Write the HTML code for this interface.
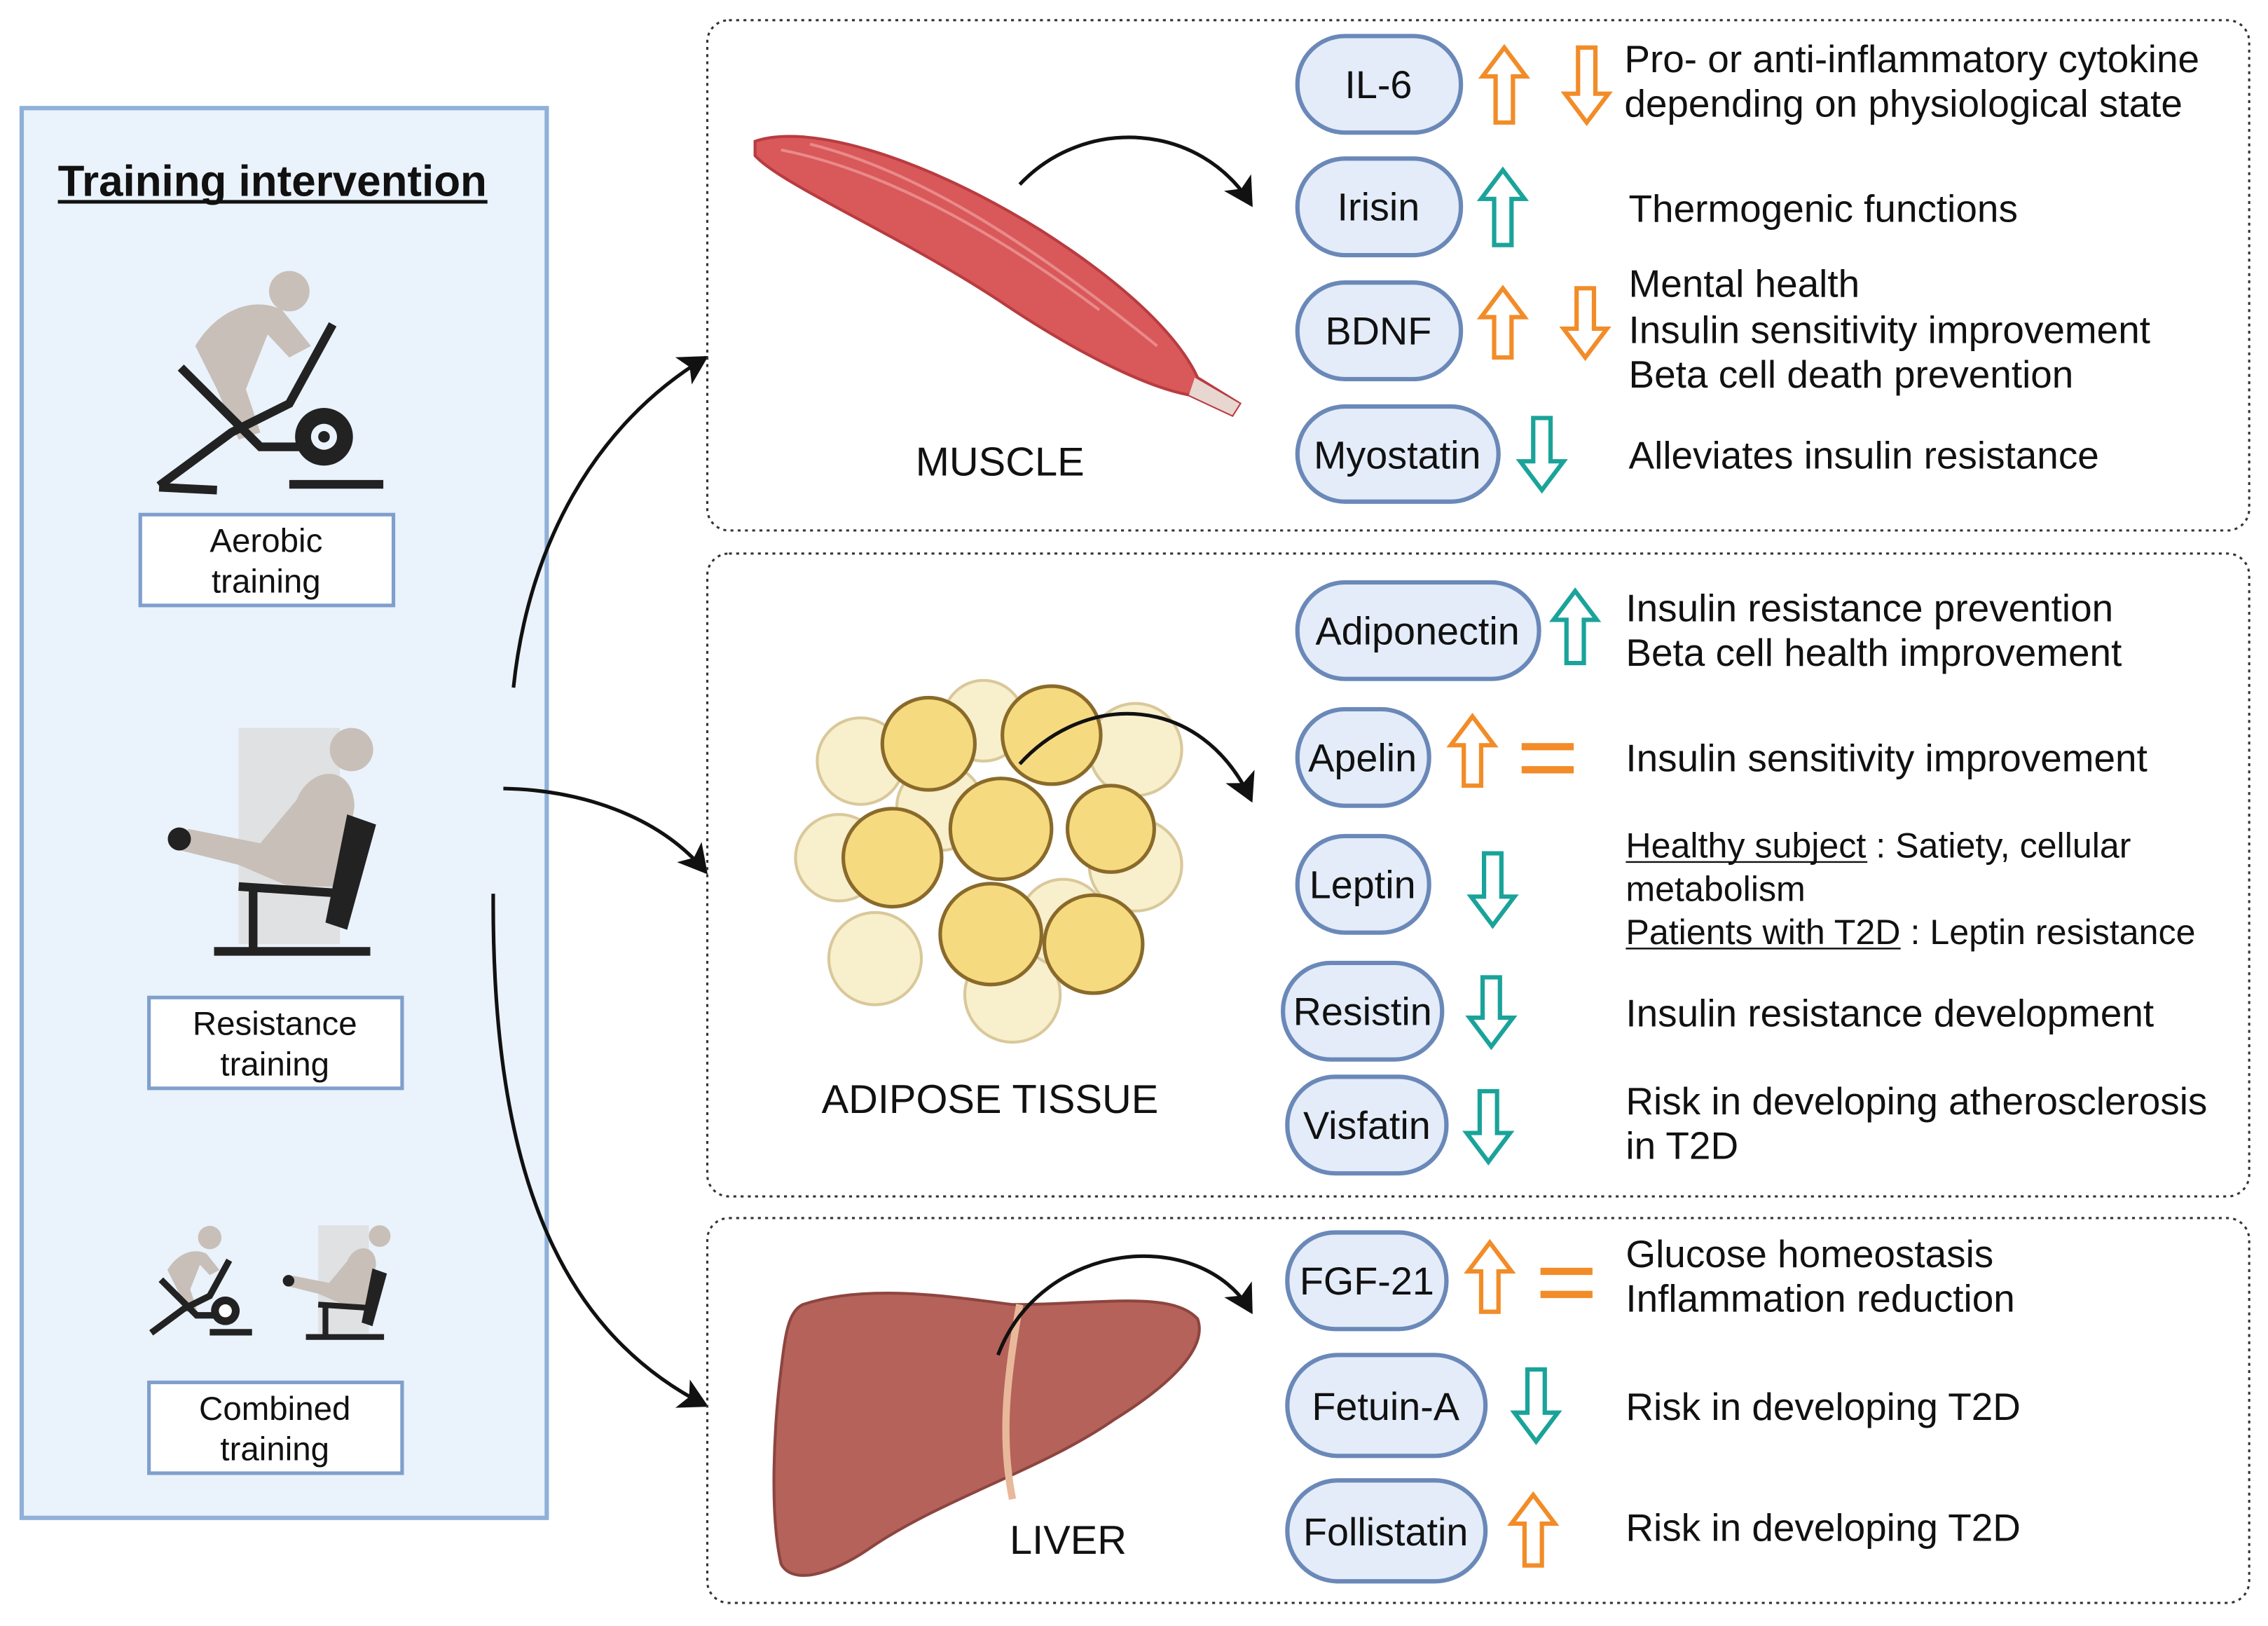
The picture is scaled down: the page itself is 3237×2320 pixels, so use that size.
<!DOCTYPE html>
<html><head><meta charset="utf-8"><style>
html,body{margin:0;padding:0;background:#fff;}
svg{display:block;}
text{font-family:"Liberation Sans",sans-serif;fill:#111;}
</style></head><body>
<svg width="3237" height="2320" viewBox="0 0 1568 1128" preserveAspectRatio="none" xmlns="http://www.w3.org/2000/svg">
<defs>
<marker id="ah2" markerWidth="22" markerHeight="22" refX="18" refY="11" orient="auto" markerUnits="userSpaceOnUse"><path d="M0,0 L20,11 L0,22 L5,11 Z" fill="#111"/></marker>
</defs>
<rect x="15" y="75" width="363" height="978" fill="#eaf2fb" stroke="#8fb0d8" stroke-width="3"/>
<text x="40" y="136" font-size="30" font-weight="bold">Training intervention</text>
<line x1="40" y1="140" x2="337" y2="140" stroke="#111" stroke-width="2.5"/>
<g fill="#fff" stroke="#7f9fcc" stroke-width="2.5">
<rect x="97" y="357" width="175" height="63"/>
<rect x="103" y="692" width="175" height="63"/>
<rect x="103" y="959" width="175" height="63"/>
</g>
<g font-size="23" text-anchor="middle">
<text x="184" y="383">Aerobic</text><text x="184" y="411">training</text>
<text x="190" y="718">Resistance</text><text x="190" y="746">training</text>
<text x="190" y="985">Combined</text><text x="190" y="1013">training</text>
</g>
<g>
<circle cx="200" cy="202" r="14" fill="#c8bfb8"/>
<path d="M135,240 C150,215 175,205 195,215 L215,240 L200,248 L185,232 L170,270 L180,300 L165,305 L150,270 Z" fill="#c8bfb8"/>
<path d="M110,337 L160,300 L200,280 L230,225" stroke="#222" stroke-width="6" fill="none"/>
<path d="M125,255 L180,310 L240,310 M150,340 L110,338 M200,336 L265,336" stroke="#222" stroke-width="6" fill="none"/>
<circle cx="224" cy="303" r="20" fill="#222"/><circle cx="224" cy="303" r="9" fill="#eaf2fb"/><circle cx="224" cy="303" r="4" fill="#222"/>
</g>
<g>
<rect x="165" y="505" width="70" height="150" fill="#dcdcdc" opacity="0.8"/>
<circle cx="243" cy="520" r="15" fill="#c8bfb8"/>
<path d="M205,555 C215,530 245,530 245,560 L235,615 L200,615 L165,600 L125,590 L130,575 L180,585 Z" fill="#c8bfb8"/>
<path d="M240,565 L260,572 L240,645 L225,640 Z" fill="#222"/>
<path d="M165,615 L240,620 M175,618 L175,660 M148,660 L256,660" stroke="#222" stroke-width="6" fill="none"/>
<circle cx="124" cy="582" r="8" fill="#222"/>
</g>
<g transform="translate(100,845) scale(0.45)">
<circle cx="100" cy="30" r="18" fill="#c8bfb8"/>
<path d="M35,80 C50,55 75,45 95,55 L115,80 L100,88 L85,72 L70,110 L80,140 L65,145 L50,110 Z" fill="#c8bfb8"/>
<path d="M10,177 L60,140 L100,120 L130,65 M25,95 L80,150 L140,150 M100,176 L165,176" stroke="#222" stroke-width="10" fill="none"/>
<circle cx="124" cy="143" r="22" fill="#222"/><circle cx="124" cy="143" r="10" fill="#fff"/>
</g>
<g transform="translate(155,830) scale(0.5)">
<rect x="130" y="40" width="70" height="150" fill="#dcdcdc" opacity="0.8"/>
<circle cx="215" cy="55" r="15" fill="#c8bfb8"/>
<path d="M170,90 C180,65 210,65 210,95 L200,150 L165,150 L130,135 L90,125 L95,110 L145,120 Z" fill="#c8bfb8"/>
<path d="M205,100 L225,107 L205,180 L190,175 Z" fill="#222"/>
<path d="M130,150 L205,155 M140,153 L140,195 M113,195 L221,195" stroke="#222" stroke-width="8" fill="none"/>
<circle cx="89" cy="117" r="8" fill="#222"/>
</g>
<g stroke="#111" stroke-width="2.5" fill="none" marker-end="url(#ah2)">
<path d="M355,477 C365,380 410,295 488,248"/>
<path d="M348,547 C400,548 455,565 488,605"/>
<path d="M341,620 C340,800 380,920 488,975"/>
</g>
<g fill="none" stroke="#333" stroke-width="1.5" stroke-dasharray="2,3">
<rect x="489" y="14" width="1066" height="354" rx="15"/>
<rect x="489" y="384" width="1066" height="446" rx="15"/>
<rect x="489" y="845" width="1066" height="267" rx="15"/>
</g>
<path d="M522,98 C560,85 640,110 720,160 C790,205 818,240 828,262 L857,280 L852,288 L822,274 C790,268 740,242 690,208 C620,162 540,128 522,108 Z" fill="#d9585a" stroke="#b83c40" stroke-width="2"/>
<path d="M826,262 L857,280 L852,288 L822,274 Z" fill="#e8d6d0"/>
<path d="M540,104 C620,120 700,170 760,215 M560,100 C640,120 720,175 800,240" stroke="#e98a8a" stroke-width="2" fill="none"/>
<text x="633" y="330" font-size="28">MUSCLE</text>
<g fill="#f8efcc" stroke="#d9c89a" stroke-width="2">
<circle cx="595" cy="528" r="30"/><circle cx="680" cy="500" r="28"/><circle cx="785" cy="520" r="32"/>
<circle cx="580" cy="595" r="30"/><circle cx="605" cy="665" r="32"/><circle cx="700" cy="690" r="33"/>
<circle cx="785" cy="600" r="32"/><circle cx="650" cy="560" r="30"/><circle cx="735" cy="640" r="30"/>
</g>
<g fill="#f5da80" stroke="#8a6a2a" stroke-width="2.5">
<circle cx="642" cy="516" r="32"/><circle cx="727" cy="510" r="34"/><circle cx="617" cy="595" r="34"/>
<circle cx="692" cy="575" r="35"/><circle cx="768" cy="575" r="30"/><circle cx="685" cy="648" r="35"/><circle cx="756" cy="655" r="34"/>
</g>
<text x="568" y="772" font-size="28">ADIPOSE TISSUE</text>
<path d="M555,905 C600,890 660,900 700,905 C760,905 810,895 828,915 C835,935 810,960 770,985 C720,1020 650,1040 600,1075 C575,1092 548,1100 540,1085 C532,1050 535,990 540,950 C543,925 545,910 555,905 Z" fill="#b5625a" stroke="#8d4540" stroke-width="2"/>
<path d="M705,905 C695,960 692,1000 700,1040" stroke="#e8b89a" stroke-width="5" fill="none"/>
<text x="698" y="1078" font-size="28">LIVER</text>
<g stroke="#111" stroke-width="2.5" fill="none" marker-end="url(#ah2)">
<path d="M705,128 C750,80 830,85 865,142"/>
<path d="M705,530 C750,480 830,480 865,555"/>
<path d="M690,940 C720,860 830,850 865,910"/>
</g>
<g fill="#e3ecf8" stroke="#6a88b8" stroke-width="3">
<rect x="897" y="25" width="113" height="67" rx="33"/>
<rect x="897" y="110" width="113" height="67" rx="33"/>
<rect x="897" y="196" width="113" height="67" rx="33"/>
<rect x="897" y="282" width="139" height="66" rx="33"/>
<rect x="897" y="404" width="167" height="67" rx="33"/>
<rect x="897" y="492" width="91" height="67" rx="33"/>
<rect x="897" y="580" width="91" height="67" rx="33"/>
<rect x="887" y="668" width="110" height="67" rx="33"/>
<rect x="890" y="747" width="110" height="67" rx="33"/>
<rect x="890" y="855" width="110" height="67" rx="33"/>
<rect x="890" y="940" width="137" height="70" rx="35"/>
<rect x="890" y="1027" width="137" height="70" rx="35"/>
</g>
<g font-size="27" text-anchor="middle">
<text x="953" y="68">IL-6</text>
<text x="953" y="153">Irisin</text>
<text x="953" y="239">BDNF</text>
<text x="966" y="325">Myostatin</text>
<text x="980" y="447">Adiponectin</text>
<text x="942" y="535">Apelin</text>
<text x="942" y="623">Leptin</text>
<text x="942" y="711">Resistin</text>
<text x="945" y="790">Visfatin</text>
<text x="945" y="898">FGF-21</text>
<text x="958" y="985">Fetuin-A</text>
<text x="958" y="1072">Follistatin</text>
</g>
<g fill="#fff" stroke-width="3" stroke-linejoin="miter">
<path stroke="#f28c28" d="M1040,33 L1055,53 L1046,53 L1046,85 L1034,85 L1034,53 L1025,53 Z"/>
<path stroke="#f28c28" d="M1097,85 L1112,65 L1103,65 L1103,33 L1091,33 L1091,65 L1082,65 Z"/>
<path stroke="#1aa39a" d="M1039,118 L1054,138 L1045,138 L1045,170 L1033,170 L1033,138 L1024,138 Z"/>
<path stroke="#f28c28" d="M1039,200 L1054,220 L1045,220 L1045,248 L1033,248 L1033,220 L1024,220 Z"/>
<path stroke="#f28c28" d="M1096,248 L1111,228 L1102,228 L1102,200 L1090,200 L1090,228 L1081,228 Z"/>
<path stroke="#1aa39a" d="M1066,340 L1081,320 L1072,320 L1072,290 L1060,290 L1060,320 L1051,320 Z"/>
<path stroke="#1aa39a" d="M1089,410 L1104,430 L1095,430 L1095,460 L1083,460 L1083,430 L1074,430 Z"/>
<path stroke="#f28c28" d="M1018,497 L1033,517 L1024,517 L1024,545 L1012,545 L1012,517 L1003,517 Z"/>
<path stroke="#1aa39a" d="M1032,642 L1047,622 L1038,622 L1038,592 L1026,592 L1026,622 L1017,622 Z"/>
<path stroke="#1aa39a" d="M1031,726 L1046,706 L1037,706 L1037,678 L1025,678 L1025,706 L1016,706 Z"/>
<path stroke="#1aa39a" d="M1029,806 L1044,786 L1035,786 L1035,757 L1023,757 L1023,786 L1014,786 Z"/>
<path stroke="#f28c28" d="M1030,862 L1045,882 L1036,882 L1036,910 L1024,910 L1024,882 L1015,882 Z"/>
<path stroke="#1aa39a" d="M1062,1000 L1077,980 L1068,980 L1068,950 L1056,950 L1056,980 L1047,980 Z"/>
<path stroke="#f28c28" d="M1060,1037 L1075,1057 L1066,1057 L1066,1086 L1054,1086 L1054,1057 L1045,1057 Z"/>
</g>
<g stroke="#f28c28" stroke-width="5">
<line x1="1052" y1="518" x2="1088" y2="518"/><line x1="1052" y1="534" x2="1088" y2="534"/>
<line x1="1065" y1="882" x2="1101" y2="882"/><line x1="1065" y1="898" x2="1101" y2="898"/>
</g>
<g font-size="26.6">
<text x="1123" y="50">Pro- or anti-inflammatory cytokine</text>
<text x="1123" y="81">depending on physiological state</text>
<text x="1126" y="154">Thermogenic functions</text>
<text x="1126" y="206">Mental health</text>
<text x="1126" y="238">Insulin sensitivity improvement</text>
<text x="1126" y="269">Beta cell death prevention</text>
<text x="1126" y="325">Alleviates insulin resistance</text>
<text x="1124" y="431">Insulin resistance prevention</text>
<text x="1124" y="462">Beta cell health improvement</text>
<text x="1124" y="535">Insulin sensitivity improvement</text>
<text x="1124" y="712">Insulin resistance development</text>
<text x="1124" y="773">Risk in developing atherosclerosis</text>
<text x="1124" y="804">in T2D</text>
<text x="1124" y="879">Glucose homeostasis</text>
<text x="1124" y="910">Inflammation reduction</text>
<text x="1124" y="985">Risk in developing T2D</text>
<text x="1124" y="1069">Risk in developing T2D</text>
</g>
<g font-size="24.3">
<text x="1124" y="595">Healthy subject : Satiety, cellular</text>
<text x="1124" y="625">metabolism</text>
<text x="1124" y="655">Patients with T2D : Leptin resistance</text>
</g>
<line x1="1124" y1="598" x2="1291" y2="598" stroke="#111" stroke-width="1.2"/>
<line x1="1124" y1="658" x2="1314" y2="658" stroke="#111" stroke-width="1.2"/>
</svg>
</body></html>
